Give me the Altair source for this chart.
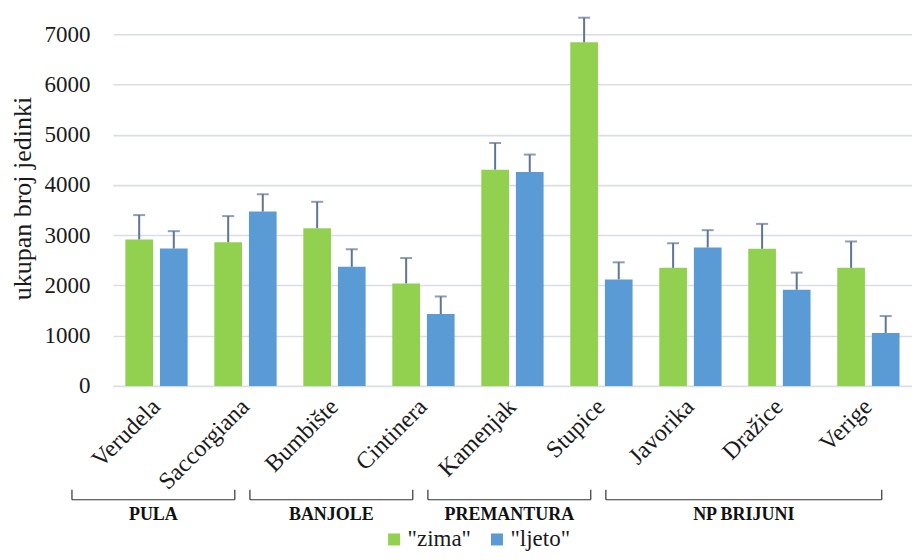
import altair as alt
import pandas as pd

# ---- data ----
sites = ["Verudela", "Saccorgiana", "Bumbište", "Cintinera", "Kamenjak",
         "Stupice", "Javorika", "Dražice", "Verige"]
seasons = ['"zima"', '"ljeto"']
zima = [2915, 2860, 3140, 2040, 4305, 6840, 2350, 2730, 2350]
zima_err = [485, 520, 525, 505, 530, 490, 490, 495, 525]
ljeto = [2735, 3470, 2370, 1430, 4260, 2120, 2755, 1915, 1055]
ljeto_err = [345, 345, 350, 350, 345, 340, 345, 340, 335]

groups = ["PULA", "BANJOLE", "PREMANTURA", "NP BRIJUNI"]
group_sites = [["Verudela", "Saccorgiana"], ["Bumbište", "Cintinera"],
               ["Kamenjak", "Stupice"], ["Javorika", "Dražice", "Verige"]]

# ---- styling / layout constants ----
W, H = 800, 352
PAD_INNER, PAD_OUTER = 0.30, 0.14
GREEN, BLUE = "#92d050", "#5b9bd5"
ERR = "#5f7594"
GRID = "#dadde6"
FONT = "Liberation Serif"
TXT = "#1a1a1a"

rows = []
for i, s in enumerate(sites):
    rows.append({"site": s, "season": seasons[0], "value": zima[i], "hi": zima[i] + zima_err[i]})
    rows.append({"site": s, "season": seasons[1], "value": ljeto[i], "hi": ljeto[i] + ljeto_err[i]})
df = pd.DataFrame(rows)

# bracket extents in category-index units
brows = []
for gi, (g, members) in enumerate(zip(groups, group_sites)):
    first = sites.index(members[0])
    last = sites.index(members[-1])
    left = first - 0.95
    right = last + 0.15 if gi == len(groups) - 1 else last - 0.12
    brows.append({"group": g, "left": left, "right": right, "mid": (left + right) / 2})
bdf = pd.DataFrame(brows)

n = len(sites)
q_lo = -(PAD_OUTER + (1 - PAD_INNER) / 2)
q_hi = n - 0.5 - PAD_INNER / 2 + PAD_OUTER
qx = alt.Scale(domain=[q_lo, q_hi], nice=False, zero=False)

xaxis = alt.Axis(labelAngle=-45, labelAlign="right", labelBaseline="middle",
                 labelPadding=17, domain=False, ticks=False, grid=False, title=None,
                 labelFontSize=24)
xenc = alt.X("site:N", sort=sites, title=None,
             scale=alt.Scale(paddingInner=PAD_INNER, paddingOuter=PAD_OUTER),
             axis=xaxis)
xoff = alt.XOffset("season:N", sort=seasons,
                   scale=alt.Scale(paddingInner=0.2, paddingOuter=0))

yaxis = alt.Axis(values=list(range(0, 7001, 1000)), format="d", domain=False, ticks=False,
                 grid=True, gridColor=GRID, gridWidth=1.6, labelFontSize=23,
                 labelPadding=23, titlePadding=8, titleFontSize=26, titleY=164,
                 title="ukupan broj jedinki")
yscale = alt.Scale(domain=[0, 7000], nice=False)
yenc = alt.Y("value:Q", title="ukupan broj jedinki", scale=yscale, axis=yaxis)

bars = alt.Chart(df).mark_bar().encode(
    x=xenc, xOffset=xoff, y=yenc,
    color=alt.Color("season:N", sort=seasons,
                    scale=alt.Scale(domain=seasons, range=[GREEN, BLUE]),
                    legend=alt.Legend(title=None, orient="none", direction="horizontal",
                                      legendX=270, legendY=494, symbolType="square",
                                      symbolSize=144, symbolStrokeWidth=0,
                                      labelOffset=2, columnPadding=14)),
)

err_rule = alt.Chart(df).mark_rule(color=ERR, strokeWidth=2).encode(
    x=xenc, xOffset=xoff, y=yenc, y2="hi:Q",
)
err_cap = alt.Chart(df).mark_tick(color=ERR, thickness=2, size=12, orient="horizontal").encode(
    x=xenc, xOffset=xoff,
    y=alt.Y("hi:Q", title="ukupan broj jedinki", scale=yscale, axis=yaxis),
)

main = alt.layer(bars, err_rule, err_cap)

BR_Y, BR_TOP, LBL_Y = 466, 456, 481
b_h = alt.Chart(bdf).mark_rule(color="#333333", strokeWidth=1.2).encode(
    x=alt.X("left:Q", scale=qx, axis=None), x2="right:Q", y=alt.value(BR_Y))
b_l = alt.Chart(bdf).mark_rule(color="#333333", strokeWidth=1.2).encode(
    x=alt.X("left:Q", scale=qx, axis=None), y=alt.value(BR_TOP), y2=alt.value(BR_Y))
b_r = alt.Chart(bdf).mark_rule(color="#333333", strokeWidth=1.2).encode(
    x=alt.X("right:Q", scale=qx, axis=None), y=alt.value(BR_TOP), y2=alt.value(BR_Y))
b_t = alt.Chart(bdf).mark_text(font=FONT, fontSize=18, fontWeight="bold",
                               color="#111111", baseline="middle").encode(
    x=alt.X("mid:Q", scale=qx, axis=None), y=alt.value(LBL_Y), text="group:N")

brackets = alt.layer(b_h, b_l, b_r, b_t)

chart = alt.layer(main, brackets).resolve_scale(x="independent").properties(
    width=W, height=H,
    autosize=alt.AutoSizeParams(type="none"),
    padding={"left": 105, "top": 26, "right": 0, "bottom": 166},
).configure_view(stroke=None).configure_axis(
    labelFont=FONT, labelColor=TXT,
    titleFont=FONT, titleFontWeight="normal", titleColor=TXT,
).configure_legend(
    labelFont=FONT, labelFontSize=23, labelColor=TXT,
)

chart.save("out.html", embed_options={"renderer": "svg", "actions": False})
